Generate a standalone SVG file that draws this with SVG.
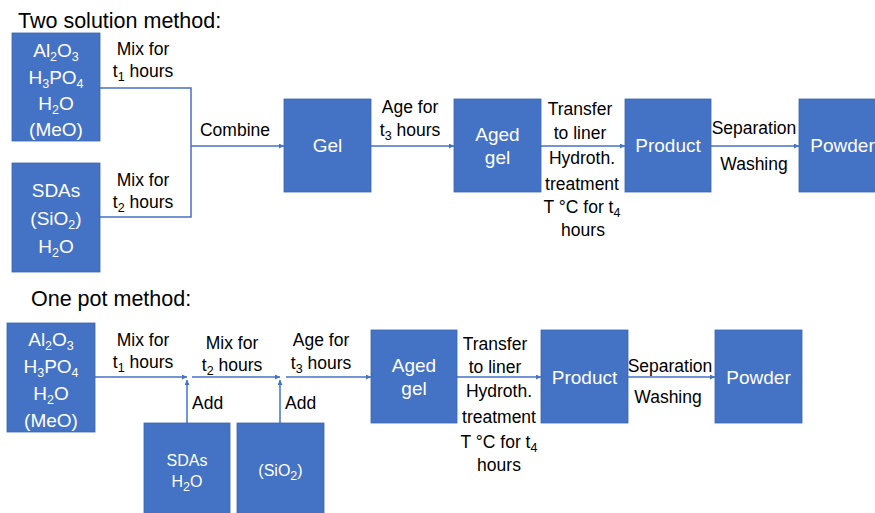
<svg xmlns="http://www.w3.org/2000/svg" width="875" height="513" viewBox="0 0 875 513">
<style>
.box{fill:#4472C4;stroke:#3A64B0;stroke-width:0.8}
.bt{font-family:"Liberation Sans",Arial,sans-serif;font-size:19px;fill:#FFFFFF;text-anchor:middle}
.lb{font-family:"Liberation Sans",Arial,sans-serif;font-size:17.5px;fill:#000000;text-anchor:middle}
.lbs{font-family:"Liberation Sans",Arial,sans-serif;font-size:17.5px;fill:#000000;text-anchor:start}
.ttl{font-family:"Liberation Sans",Arial,sans-serif;font-size:21.5px;fill:#000000}
.ln{fill:none;stroke:#4472C4;stroke-width:1.5}
.s{font-size:12.5px}
</style>
<defs>
<marker id="ah" viewBox="0 0 10 10" refX="10" refY="5" markerWidth="5" markerHeight="5" orient="auto" markerUnits="userSpaceOnUse">
<path d="M0,0 L10,5 L0,10 z" fill="#4472C4"/>
</marker>
</defs>
<rect width="875" height="513" fill="#FFFFFF"/>
<text class="ttl" x="18" y="28">Two solution method:</text>
<text class="ttl" x="31" y="306">One pot method:</text>

<g id="connectors">
<polyline class="ln" points="100,88 191,88 191,217 100,217"/>
<line class="ln" x1="191" y1="146" x2="284" y2="146" marker-end="url(#ah)"/>
<line class="ln" x1="371" y1="146" x2="454" y2="146" marker-end="url(#ah)"/>
<line class="ln" x1="541" y1="146" x2="625" y2="146" marker-end="url(#ah)"/>
<line class="ln" x1="711" y1="146" x2="799" y2="146" marker-end="url(#ah)"/>
<line class="ln" x1="95" y1="377" x2="187" y2="377" marker-end="url(#ah)"/>
<line class="ln" x1="192" y1="377" x2="280" y2="377" marker-end="url(#ah)"/>
<line class="ln" x1="286" y1="377" x2="371" y2="377" marker-end="url(#ah)"/>
<line class="ln" x1="187" y1="423" x2="187" y2="380" marker-end="url(#ah)"/>
<line class="ln" x1="280" y1="423" x2="280" y2="380" marker-end="url(#ah)"/>
<line class="ln" x1="457" y1="377" x2="541" y2="377" marker-end="url(#ah)"/>
<line class="ln" x1="628" y1="377" x2="715" y2="377" marker-end="url(#ah)"/>
</g>

<g id="labels">
<text class="lb" x="143" y="55">Mix for</text>
<text class="lb" x="143" y="77">t<tspan class="s" dy="4">1</tspan><tspan dy="-4"> hours</tspan></text>
<text class="lb" x="143" y="186">Mix for</text>
<text class="lb" x="143" y="208">t<tspan class="s" dy="4">2</tspan><tspan dy="-4"> hours</tspan></text>
<text class="lb" x="235" y="136">Combine</text>
<text class="lb" x="410" y="113">Age for</text>
<text class="lb" x="410" y="136">t<tspan class="s" dy="4">3</tspan><tspan dy="-4"> hours</tspan></text>
<text class="lb" x="580" y="115">Transfer</text>
<text class="lb" x="580" y="139">to liner</text>
<text class="lb" x="582" y="164">Hydroth.</text>
<text class="lb" x="582" y="190">treatment</text>
<text class="lb" x="582" y="213">T °C for t<tspan class="s" dy="4">4</tspan></text>
<text class="lb" x="583" y="236">hours</text>
<text class="lb" x="754" y="134">Separation</text>
<text class="lb" x="754" y="170">Washing</text>

<text class="lb" x="143" y="346">Mix for</text>
<text class="lb" x="143" y="368">t<tspan class="s" dy="4">1</tspan><tspan dy="-4"> hours</tspan></text>
<text class="lb" x="232" y="349">Mix for</text>
<text class="lb" x="232" y="371">t<tspan class="s" dy="4">2</tspan><tspan dy="-4"> hours</tspan></text>
<text class="lb" x="321" y="346">Age for</text>
<text class="lb" x="321" y="369">t<tspan class="s" dy="4">3</tspan><tspan dy="-4"> hours</tspan></text>
<text class="lbs" x="192" y="409">Add</text>
<text class="lbs" x="285" y="409">Add</text>
<text class="lb" x="495" y="350">Transfer</text>
<text class="lb" x="495" y="373">to liner</text>
<text class="lb" x="499" y="397">Hydroth.</text>
<text class="lb" x="499" y="423">treatment</text>
<text class="lb" x="499" y="448">T °C for t<tspan class="s" dy="4">4</tspan></text>
<text class="lb" x="499" y="471">hours</text>
<text class="lb" x="670" y="372">Separation</text>
<text class="lb" x="668" y="403">Washing</text>
</g>

<g id="ts-reagents1">
<rect class="box" x="12" y="33" width="88" height="108"/>
<text class="bt" x="56" y="57">Al<tspan class="s" dy="4">2</tspan><tspan dy="-4">O</tspan><tspan class="s" dy="4">3</tspan></text>
<text class="bt" x="56" y="84">H<tspan class="s" dy="4">3</tspan><tspan dy="-4">PO</tspan><tspan class="s" dy="4">4</tspan></text>
<text class="bt" x="56" y="110">H<tspan class="s" dy="4">2</tspan><tspan dy="-4">O</tspan></text>
<text class="bt" x="56" y="136">(MeO)</text>
</g>
<g id="ts-reagents2">
<rect class="box" x="12" y="163" width="88" height="109"/>
<text class="bt" x="56" y="197">SDAs</text>
<text class="bt" x="56" y="225">(SiO<tspan class="s" dy="4">2</tspan><tspan dy="-4">)</tspan></text>
<text class="bt" x="56" y="253">H<tspan class="s" dy="4">2</tspan><tspan dy="-4">O</tspan></text>
</g>
<g id="ts-gel">
<rect class="box" x="284" y="99" width="87" height="93"/>
<text class="bt" x="327.5" y="152">Gel</text>
</g>
<g id="ts-aged">
<rect class="box" x="454" y="99" width="87" height="93"/>
<text class="bt" x="497.5" y="141">Aged</text>
<text class="bt" x="497.5" y="164">gel</text>
</g>
<g id="ts-product">
<rect class="box" x="625" y="99" width="86" height="93"/>
<text class="bt" x="668" y="152">Product</text>
</g>
<g id="ts-powder">
<rect class="box" x="799" y="99" width="87" height="93"/>
<text class="bt" x="842.5" y="152">Powder</text>
</g>

<g id="op-reagents">
<rect class="box" x="7" y="323" width="88" height="109"/>
<text class="bt" x="51" y="346">Al<tspan class="s" dy="4">2</tspan><tspan dy="-4">O</tspan><tspan class="s" dy="4">3</tspan></text>
<text class="bt" x="51" y="373">H<tspan class="s" dy="4">3</tspan><tspan dy="-4">PO</tspan><tspan class="s" dy="4">4</tspan></text>
<text class="bt" x="51" y="400">H<tspan class="s" dy="4">2</tspan><tspan dy="-4">O</tspan></text>
<text class="bt" x="51" y="427">(MeO)</text>
</g>
<g id="op-sdas">
<rect class="box" x="144" y="423" width="86" height="92"/>
<text class="bt" x="187" y="466" style="font-size:16px">SDAs</text>
<text class="bt" x="187" y="487" style="font-size:16px">H<tspan class="s" dy="4">2</tspan><tspan dy="-4">O</tspan></text>
</g>
<g id="op-sio2">
<rect class="box" x="237" y="423" width="87" height="92"/>
<text class="bt" x="280.5" y="476" style="font-size:16px">(SiO<tspan class="s" dy="4">2</tspan><tspan dy="-4">)</tspan></text>
</g>
<g id="op-aged">
<rect class="box" x="371" y="330" width="86" height="93"/>
<text class="bt" x="414" y="372">Aged</text>
<text class="bt" x="414" y="395">gel</text>
</g>
<g id="op-product">
<rect class="box" x="541" y="330" width="87" height="93"/>
<text class="bt" x="584.5" y="384">Product</text>
</g>
<g id="op-powder">
<rect class="box" x="715" y="330" width="87" height="93"/>
<text class="bt" x="758.5" y="384">Powder</text>
</g>
</svg>
